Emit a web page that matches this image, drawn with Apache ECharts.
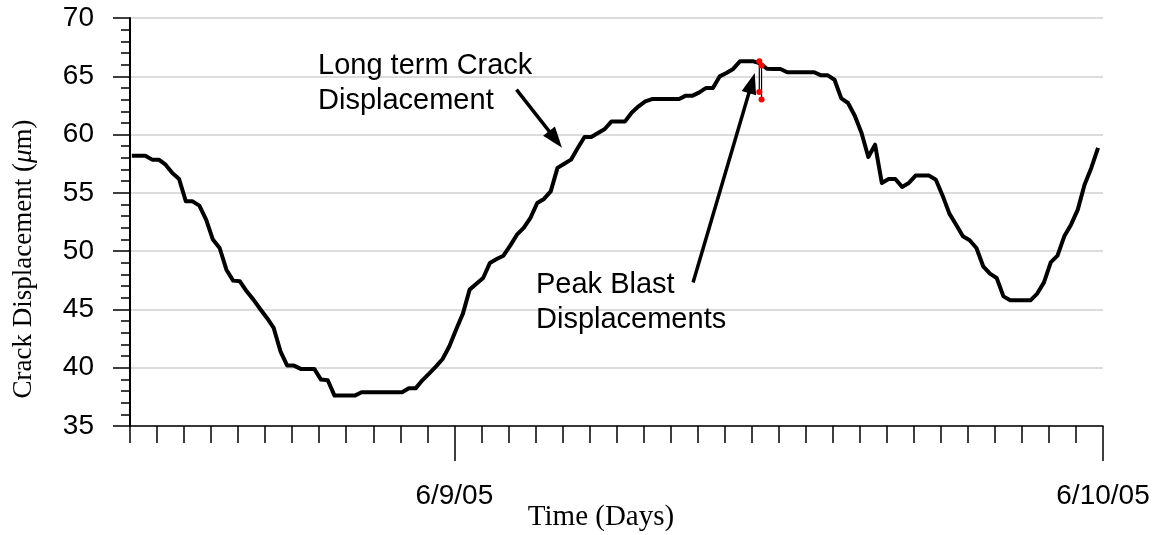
<!DOCTYPE html>
<html>
<head>
<meta charset="utf-8">
<title>Crack Displacement</title>
<script src="https://cdn.jsdelivr.net/npm/echarts@6/dist/echarts.min.js"></script>
<style>
  html, body { margin: 0; padding: 0; background: #ffffff; }
  #chart { width: 1161px; height: 535px; }
</style>
</head>
<body>
<div id="chart"></div>
<script>
// Time window and day labels of the x axis
const axisStart = '2005-06-08T12:00:00Z';
const axisEnd = '2005-06-10T00:00:00Z';
const dayTicks = ['2005-06-09T00:00:00Z', '2005-06-10T00:00:00Z'];
const dayLabels = ['6/9/05', '6/10/05'];

// Crack gauge readings (µm), one every 15 minutes from the first sample
const firstSample = '2005-06-08T12:04:00Z';
const sampleStepMinutes = 15;
const crackValues = [
  58.19, 58.19, 58.19, 57.85, 57.85, 57.42, 56.71, 56.19, 54.27, 54.27,
  53.90, 52.70, 50.99, 50.27, 48.41, 47.47, 47.41, 46.55, 45.84, 45.04,
  44.27, 43.41, 41.41, 40.18, 40.18, 39.90, 39.90, 39.90, 38.98, 38.92,
  37.61, 37.61, 37.61, 37.61, 37.89, 37.89, 37.89, 37.89, 37.89, 37.89,
  37.89, 38.23, 38.23, 38.92, 39.50, 40.10, 40.75, 41.84, 43.27, 44.64,
  46.70, 47.20, 47.70, 48.99, 49.33, 49.61, 50.47, 51.41, 51.99, 52.85,
  54.13, 54.48, 55.13, 57.14, 57.50, 57.85, 58.85, 59.79, 59.79, 60.14,
  60.48, 61.13, 61.13, 61.13, 61.90, 62.42, 62.85, 63.05, 63.05, 63.05,
  63.05, 63.05, 63.34, 63.34, 63.62, 64.00, 64.00, 64.99, 65.28, 65.63,
  66.28, 66.28, 66.28, 66.10, 65.65, 65.63, 65.63, 65.35, 65.35, 65.35,
  65.35, 65.35, 65.08, 65.08, 64.70, 63.10, 62.71, 61.62, 60.14, 58.08,
  59.13, 55.85, 56.19, 56.19, 55.51, 55.85, 56.48, 56.48, 56.48, 56.13,
  54.76, 53.22, 52.27, 51.27, 50.93, 50.27, 48.70, 48.07, 47.70, 46.12,
  45.78, 45.78, 45.78, 45.78, 46.36, 47.32, 49.04, 49.61, 51.27, 52.27,
  53.56, 55.70, 57.14, 58.85
];

// Blast events: peak and trough of each dynamic response (µm)
const blastTimes = ['2005-06-09T11:17:00Z', '2005-06-09T11:22:00Z'];
const blastMax = [66.28, 65.93];
const blastMin = [63.65, 63.00];

// Annotation arrows: tail and tip as [time, value]
const arrowLongTerm = [['2005-06-09T02:18:00Z', 63.85], ['2005-06-09T03:59:00Z', 58.88]];
const arrowBlast = [['2005-06-09T08:50:00Z', 47.30], ['2005-06-09T11:07:00Z', 65.28]];

const HOUR = 3600 * 1000;
const t = s => Date.parse(s);
const t0 = t(firstSample);
const crackSeries = crackValues.map((v, i) => [t0 + i * sampleStepMinutes * 60000, v]);
const dayTickValues = dayTicks.map(t);

const sans = 'Liberation Sans, Arial, sans-serif';
const serif = 'Liberation Serif, Times New Roman, serif';

const chart = echarts.init(document.getElementById('chart'), null, { renderer: 'canvas' });

const blastSeries = blastTimes.map((bt, i) => ({
  type: 'line',
  xAxisIndex: 0,
  data: [[t(bt), blastMax[i]], [t(bt), blastMin[i]]],
  symbol: 'circle',
  symbolSize: 6,
  showSymbol: true,
  itemStyle: { color: '#ff0000', borderWidth: 0 },
  lineStyle: { color: '#000000', width: 1.2 },
  z: 5,
  silent: true
}));

const option = {
  animation: false,
  backgroundColor: '#ffffff',
  grid: { left: 130, right: 58, top: 18, bottom: 109, containLabel: false, outerBoundsMode: 'none' },
  xAxis: [
    {
      type: 'value',
      position: 'bottom',
      min: t(axisStart),
      max: t(axisEnd),
      interval: HOUR,
      axisLine: { show: true, lineStyle: { color: '#000000', width: 1.5 } },
      axisTick: { show: true, length: 17, lineStyle: { color: '#000000', width: 1.5 } },
      axisLabel: { show: false },
      splitLine: { show: false }
    },
    {
      type: 'value',
      position: 'bottom',
      min: t(axisStart),
      max: t(axisEnd),
      axisLine: { show: false },
      axisTick: { show: true, length: 35, customValues: dayTickValues, lineStyle: { color: '#000000', width: 1.5 } },
      axisLabel: {
        show: true,
        customValues: dayTickValues,
        formatter: v => {
          const k = dayTickValues.indexOf(v);
          return k >= 0 ? dayLabels[k] : '';
        },
        fontFamily: sans,
        fontSize: 28,
        color: '#000000',
        margin: 56
      },
      splitLine: { show: false }
    }
  ],
  yAxis: {
    type: 'value',
    min: 35,
    max: 70,
    interval: 5,
    axisLine: { show: true, lineStyle: { color: '#000000', width: 2 } },
    axisTick: { show: true, length: 17, lineStyle: { color: '#000000', width: 1.5 } },
    minorTick: { show: true, splitNumber: 5, length: 9, lineStyle: { color: '#000000', width: 1.5 } },
    splitLine: { show: true, lineStyle: { color: '#d0d0d0', width: 1.5 } },
    axisLabel: { fontFamily: sans, fontSize: 28, color: '#000000', margin: 36 }
  },
  series: [
    {
      type: 'line',
      xAxisIndex: 0,
      data: crackSeries,
      showSymbol: false,
      symbol: 'none',
      lineStyle: { color: '#000000', width: 4, join: 'round' },
      z: 3,
      silent: true
    }
  ].concat(blastSeries),
  graphic: []
};

chart.setOption(option);

// Arrow shapes placed in data coordinates
function arrowGraphic(pair) {
  const a = chart.convertToPixel({ gridIndex: 0 }, [t(pair[0][0]), pair[0][1]]);
  const b = chart.convertToPixel({ gridIndex: 0 }, [t(pair[1][0]), pair[1][1]]);
  const dx = b[0] - a[0], dy = b[1] - a[1];
  const len = Math.sqrt(dx * dx + dy * dy);
  const ux = dx / len, uy = dy / len;
  const headLen = 21, headHalf = 7.5;
  const base = [b[0] - ux * headLen, b[1] - uy * headLen];
  return [
    {
      type: 'line',
      shape: { x1: a[0], y1: a[1], x2: base[0] + ux * 2, y2: base[1] + uy * 2 },
      style: { stroke: '#000000', lineWidth: 3.5 },
      silent: true, z: 10
    },
    {
      type: 'polygon',
      shape: { points: [b, [base[0] - uy * headHalf, base[1] + ux * headHalf], [base[0] + uy * headHalf, base[1] - ux * headHalf]] },
      style: { fill: '#000000' },
      silent: true, z: 10
    }
  ];
}

chart.setOption({
  graphic: [
    ...arrowGraphic(arrowLongTerm),
    ...arrowGraphic(arrowBlast),
    {
      type: 'text', x: 318, y: 48, silent: true, z: 10,
      style: { text: 'Long term Crack\nDisplacement', font: '29px ' + sans, fill: '#000000', lineHeight: 35, align: 'left', verticalAlign: 'top' }
    },
    {
      type: 'text', x: 536, y: 267, silent: true, z: 10,
      style: { text: 'Peak Blast\nDisplacements', font: '29px ' + sans, fill: '#000000', lineHeight: 35, align: 'left', verticalAlign: 'top' }
    },
    {
      type: 'text', x: 601, y: 517, silent: true, z: 10,
      style: { text: 'Time (Days)', font: '29px ' + serif, fill: '#000000', align: 'center', verticalAlign: 'middle' }
    },
    {
      type: 'text', x: 24, y: 259, rotation: Math.PI / 2, silent: true, z: 10,
      style: {
        text: 'Crack Displacement ({it|μ}m)',
        fontFamily: serif, fontSize: 27, fill: '#000000', align: 'center', verticalAlign: 'middle',
        rich: { it: { fontFamily: serif, fontSize: 27, fontStyle: 'italic', fill: '#000000' } }
      }
    }
  ]
});
</script>
</body>
</html>
